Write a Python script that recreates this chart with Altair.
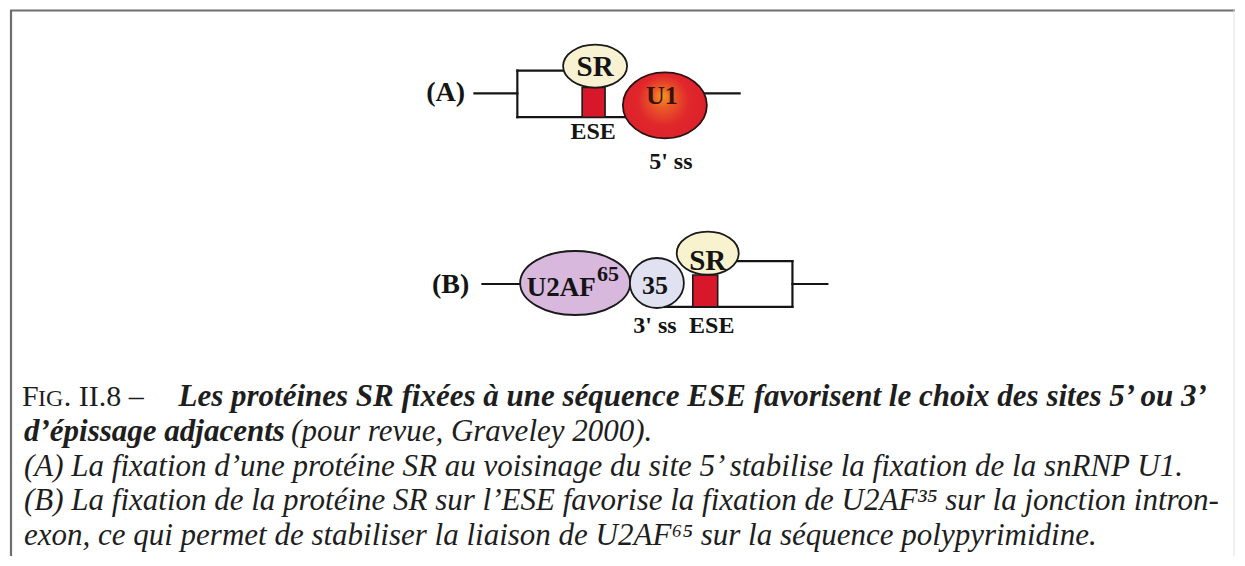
import altair as alt
import pandas as pd

# ---------------- data (image pixel coordinates) ----------------
# connecting lines (introns) and visible exon-box edges
seg_x1 = [474, 703, 517, 517, 517, 482, 793, 793, 730, 660]
seg_x2 = [517, 740, 517, 576, 632, 521, 828, 793, 793, 793]
seg_y1 = [92, 92, 69, 69, 116, 284, 284, 261, 261, 307]
seg_y2 = [92, 92, 116, 69, 116, 284, 284, 307, 261, 307]

# ESE boxes
ese_x1 = [582, 693]
ese_x2 = [605, 718]
ese_y1 = [86, 275]
ese_y2 = [116, 307]

# protein ellipses
ell_name = ["SR (A)", "U2AF65", "U2AF35", "SR (B)"]
ell_cx = [595, 575, 657, 708]
ell_cy = [64.5, 283, 283, 253]
ell_rx = [32, 55, 27, 31]
ell_ry = [21.5, 32, 25, 21.5]
ell_fill = ["#f8f2d3", "#d8b9dd", "#e1e2f1", "#f8f2cf"]

# U1 snRNP
u1_cx = [665]
u1_cy = [104]
u1_rx = [42]
u1_ry = [33]

# diagram labels
lab_text = ["(A)", "SR", "ESE", "5' ss", "(B)", "U2AF", "35", "SR", "3' ss", "ESE"]
lab_x = [445, 595, 593, 671, 450, 561, 655, 708, 655, 712]
lab_y = [100, 74, 138, 168, 293, 296, 294, 270, 333, 333]
lab_size = [28, 29, 24, 24, 28, 27, 26, 29, 24, 24]

u1_text = ["U1"]
u1_tx = [662]
u1_ty = [103]

sup_lab_text = ["65"]
sup_lab_x = [597]
sup_lab_y = [281]

# caption
reg_text = ["F", "IG", ". II.8 –"]
reg_x = [20, 36, 62]
reg_y = [407, 407, 407]
reg_size = [30, 24, 30]

bi_text = ["Les protéines SR fixées à une séquence ESE favorisent le choix des sites 5’ ou 3’",
           "d’épissage adjacents"]
bi_x = [177, 22]
bi_y = [407, 442]

it_text = ["(pour revue, Graveley 2000).",
           "(A) La fixation d’une protéine SR au voisinage du site 5’ stabilise la fixation de la snRNP U1.",
           "(B) La fixation de la protéine SR sur l’ESE favorise la fixation de U2AF³⁵ sur la jonction intron-",
           "exon, ce qui permet de stabiliser la liaison de U2AF⁶⁵ sur la séquence polypyrimidine."]
it_x = [290, 22, 22, 22]
it_y = [442, 477, 512, 547]

# frame
frame_x1 = [8, 9, 1236]
frame_x2 = [1237, 9, 1236]
frame_y1 = [8.5, 8, 8]
frame_y2 = [8.5, 558, 558]
frame_col = ["#6e6e6e", "#6e6e6e", "#e2e2e2"]
frame_w = [2.2, 2.2, 1]

# ---------------- chart ----------------
W, H = 1229, 550
xs = alt.Scale(domain=[8, 8 + W], nice=False, zero=False)
ys = alt.Scale(domain=[8, 8 + H], nice=False, zero=False, reverse=True)
SERIF = "Liberation Serif"
CAP = 31


def ellipse_path(e):
    k = 0.5523
    return (f"M 1 0 C 1 {k*e:.4f} {k:.4f} {e:.4f} 0 {e:.4f} "
            f"C {-k:.4f} {e:.4f} -1 {k*e:.4f} -1 0 "
            f"C -1 {-k*e:.4f} {-k:.4f} {-e:.4f} 0 {-e:.4f} "
            f"C {k:.4f} {-e:.4f} 1 {-k*e:.4f} 1 0 Z")


def X(f="x"):
    return alt.X(f"{f}:Q", scale=xs, axis=None)


def Y(f="y"):
    return alt.Y(f"{f}:Q", scale=ys, axis=None)


segs = pd.DataFrame({"x": seg_x1, "x2": seg_x2, "y": seg_y1, "y2": seg_y2})
seg_layer = alt.Chart(segs).mark_rule(color="#151515", strokeWidth=2.2, strokeCap="square").encode(
    x=X(), x2="x2:Q", y=Y(), y2="y2:Q")

ese = pd.DataFrame({"x": ese_x1, "x2": ese_x2, "y": ese_y1, "y2": ese_y2})
ese_layer = alt.Chart(ese).mark_rect(fill="#d8172a", stroke="#1a1a1a", strokeWidth=1.6).encode(
    x=X(), x2="x2:Q", y=Y(), y2="y2:Q")

ell = pd.DataFrame({
    "name": ell_name, "x": ell_cx, "y": ell_cy,
    "size": [(2 * r) ** 2 for r in ell_rx],
    "shape": [ellipse_path(b / a) for a, b in zip(ell_rx, ell_ry)],
    "fill": ell_fill,
})
ell_layer = alt.Chart(ell).mark_point(filled=True, opacity=1, stroke="#1a1a1a", strokeWidth=1.8).encode(
    x=X(), y=Y(),
    size=alt.Size("size:Q", scale=None),
    shape=alt.Shape("shape:N", scale=None),
    fill=alt.Fill("fill:N", scale=None),
)

u1 = pd.DataFrame({"x": u1_cx, "y": u1_cy,
                   "size": [(2 * r) ** 2 for r in u1_rx],
                   "shape": [ellipse_path(b / a) for a, b in zip(u1_rx, u1_ry)]})
u1_fill = {"gradient": "radial", "x1": 0.47, "y1": 0.38, "r1": 0, "x2": 0.5, "y2": 0.5, "r2": 0.55,
           "stops": [{"offset": 0, "color": "#f29a1f"}, {"offset": 0.22, "color": "#ea5b27"},
                     {"offset": 0.55, "color": "#e0272b"}, {"offset": 1, "color": "#dc1f2a"}]}
u1_layer = alt.Chart(u1).mark_point(filled=True, opacity=1, fill=u1_fill, stroke="#2a1212",
                                    strokeWidth=1.8).encode(
    x=X(), y=Y(), size=alt.Size("size:Q", scale=None), shape=alt.Shape("shape:N", scale=None))

labs = pd.DataFrame({"t": lab_text, "x": lab_x, "y": lab_y, "s": lab_size})
lab_layer = alt.Chart(labs).mark_text(font=SERIF, fontWeight="bold", align="center",
                                      baseline="alphabetic", color="#141414").encode(
    x=X(), y=Y(), text="t:N", size=alt.Size("s:Q", scale=None))

u1t = pd.DataFrame({"t": u1_text, "x": u1_tx, "y": u1_ty})
u1t_layer = alt.Chart(u1t).mark_text(font=SERIF, fontWeight="bold", align="center", baseline="alphabetic",
                                     fontSize=26, color="#3a1208").encode(x=X(), y=Y(), text="t:N")

slab = pd.DataFrame({"t": sup_lab_text, "x": sup_lab_x, "y": sup_lab_y})
slab_layer = alt.Chart(slab).mark_text(font=SERIF, fontWeight="bold", align="left", baseline="alphabetic",
                                       fontSize=22, color="#141414").encode(x=X(), y=Y(), text="t:N")

reg = pd.DataFrame({"t": reg_text, "x": reg_x, "y": reg_y, "s": reg_size})
reg_layer = alt.Chart(reg).mark_text(font=SERIF, align="left", baseline="alphabetic", color="#1e1e1e").encode(
    x=X(), y=Y(), text="t:N", size=alt.Size("s:Q", scale=None))

bi = pd.DataFrame({"t": bi_text, "x": bi_x, "y": bi_y})
bi_layer = alt.Chart(bi).mark_text(font=SERIF, fontWeight="bold", fontStyle="italic", align="left",
                                   baseline="alphabetic", fontSize=CAP, color="#1e1e1e").encode(
    x=X(), y=Y(), text="t:N")

it = pd.DataFrame({"t": it_text, "x": it_x, "y": it_y})
it_layer = alt.Chart(it).mark_text(font=SERIF, fontStyle="italic", align="left",
                                   baseline="alphabetic", fontSize=CAP, color="#1e1e1e").encode(
    x=X(), y=Y(), text="t:N")

frame = pd.DataFrame({"x": frame_x1, "x2": frame_x2, "y": frame_y1, "y2": frame_y2,
                      "c": frame_col, "w": frame_w})
frame_layer = alt.Chart(frame).mark_rule().encode(
    x=X(), x2="x2:Q", y=Y(), y2="y2:Q",
    color=alt.Color("c:N", scale=None),
    strokeWidth=alt.StrokeWidth("w:Q", scale=None))

chart = alt.layer(
    frame_layer, seg_layer, ese_layer, ell_layer, u1_layer,
    lab_layer, u1t_layer, slab_layer,
    reg_layer, bi_layer, it_layer,
).properties(
    width=W, height=H, padding=0, background="white",
    autosize=alt.AutoSizeParams(type="fit", contains="padding"),
).configure_view(stroke=None)

chart.save("out.html", embed_options={"renderer": "svg", "actions": False})
